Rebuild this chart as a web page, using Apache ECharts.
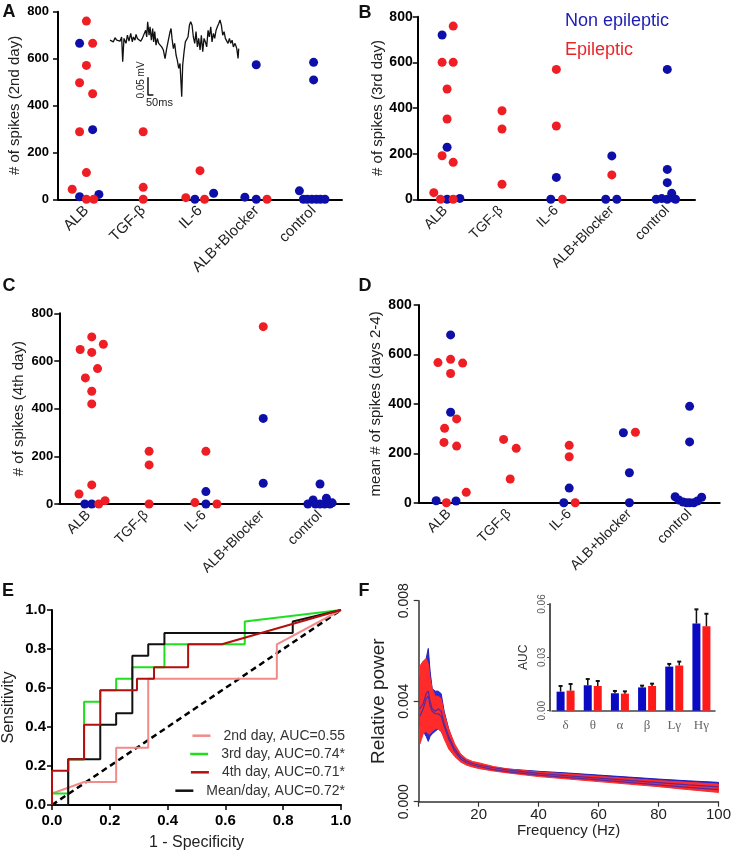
<!DOCTYPE html>
<html><head><meta charset="utf-8">
<script src="https://cdn.jsdelivr.net/npm/echarts@6/dist/echarts.min.js"></script>
<style>html,body{margin:0;padding:0;background:#fff}#c{width:734px;height:853px}</style>
</head><body><div id="c"></div>
<script>
// ---------- DATA ----------
const groupsABC = ['ALB', 'TGF-β', 'IL-6', 'ALB+Blocker', 'control'];
const groupsD = ['ALB', 'TGF-β', 'IL-6', 'ALB+blocker', 'control'];
const spikeTicks = [0, 200, 400, 600, 800];

// each point: [group index, horizontal jitter (in column widths), # of spikes]
const A_nonEpi = [[0,-0.12,11],[0,0.22,21],[0,0.11,297],[0,-0.12,665],[2,-0.09,0],[2,0.24,26],[3,-0.21,9],[3,-0.01,0],[3,-0.01,574],
  [4,-0.25,36],[4,-0.18,0],[4,-0.11,0],[4,-0.03,0],[4,0.05,0],[4,0.12,0],[4,0.2,0],[4,0,584],[4,0,509]];
const A_epi = [[0,-0.25,43],[0,0,0],[0,0.13,0],[0,0,114],[0,-0.12,288],[0,0.11,450],[0,-0.12,497],[0,0,571],[0,0.11,665],[0,0,760],
  [1,0,288],[1,0,51],[1,0,0],[2,-0.25,7],[2,0,122],[2,0.08,0],[3,0.18,0]];
const B_nonEpi = [[0,0.03,0],[0,0.26,4],[0,0.03,228],[0,-0.06,720],[2,-0.1,0],[2,0,96],[3,-0.11,0],[3,0.09,0],[3,0,190],
  [4,-0.2,0],[4,-0.1,3],[4,0,0],[4,0.08,26],[4,0.15,0],[4,0.11,5],[4,0,73],[4,0,131],[4,0,569]];
const B_epi = [[0,-0.21,29],[0,-0.09,0],[0,0.14,0],[0,-0.06,191],[0,0.14,162],[0,0.03,352],[0,0.03,483],[0,-0.06,600],[0,0.14,600],[0,0.14,759],
  [1,0.02,388],[1,0.02,308],[1,0.02,66],[2,0,569],[2,0,321],[2,0.11,0],[3,0,107]];
const C_nonEpi = [[0,-0.06,0],[0,0.06,0],[2,0.03,0],[2,0.03,52],[3,0.02,359],[3,0.02,87],[4,0,84],
  [4,-0.21,0],[4,-0.12,17],[4,-0.08,0],[4,0,0],[4,0.08,0],[4,0.11,24],[4,0.17,0],[4,0.21,5]];
const C_epi = [[0,-0.16,42],[0,0.18,0],[0,0.29,14],[0,0.06,80],[0,0.06,420],[0,0.06,473],[0,-0.05,529],[0,0.16,568],[0,0.06,636],[0,-0.14,648],[0,0.26,670],[0,0.06,701],
  [1,0.05,221],[1,0.05,164],[1,0.05,0],[2,-0.16,6],[2,0.03,221],[2,0.22,0],[3,0.02,744]];
const D_nonEpi = [[0,-0.21,8],[0,0.12,7],[0,0.03,366],[0,0.03,679],[2,-0.09,0],[2,0,59],[3,-0.1,283],[3,0,121],[3,0,0],
  [4,0,390],[4,0,246],[4,-0.24,24],[4,-0.18,11],[4,-0.11,3],[4,-0.05,0],[4,0,0],[4,0.07,0],[4,0.13,7],[4,0.2,22]];
const D_epi = [[0,-0.04,0],[0,0.29,42],[0,-0.08,244],[0,0.13,229],[0,-0.07,301],[0,0.13,339],[0,0.03,523],[0,-0.18,567],[0,0.03,580],[0,0.23,565],
  [1,-0.09,256],[1,0.12,220],[1,0.02,96],[2,0.1,0],[2,0,186],[2,0,232],[3,0.1,285]];

// example trace (inset of A): [time ms, µV]
const trace = [[0,0],[16,5],[31,-5],[47,7],[63,0],[78,5],[94,-3],[109,9],[119,-61],[131,5],[150,-9],[163,14],[178,-3],[194,19],[209,-5],[219,9],
 [234,0],[244,16],[256,5],[272,9],[288,-3],[303,5],[319,0],[334,28],[344,9],[353,52],[366,14],[375,38],[388,0],[400,33],[409,-5],[419,24],
 [431,-14],[444,5],[456,-9],[469,-5],[484,-19],[500,-28],[516,-52],[531,-24],[547,0],[563,24],[572,33],[581,5],[594,-24],[606,-9],[619,-42],
 [631,-57],[644,-80],[656,-66],[672,-160],[681,-71],[694,-33],[706,-5],[719,-9],[731,9],[744,42],[756,52],[769,42],[781,9],[794,-9],[806,24],
 [819,-19],[831,5],[844,-28],[856,14],[869,-33],[881,5],[894,-5],[906,-19],[919,28],[931,9],[944,38],[956,-5],[969,19],[981,5],[994,28],
 [1006,38],[1019,47],[1031,57],[1044,42],[1056,14],[1069,24],[1081,5],[1094,9],[1106,-9],[1119,5],[1131,-9],[1144,0],[1156,-19],[1172,-9],
 [1188,-24],[1200,-52],[1206,-24]];
const scaleBar = [[356,-105],[356,-155],[406,-155]];

// ROC curves: [1 - specificity, sensitivity]
const roc2nd = [[0,0],[0,0.059],[0.111,0.118],[0.222,0.118],[0.222,0.294],[0.333,0.294],[0.333,0.647],[0.778,0.647],[0.778,0.824],[1,1]];
const roc3rd = [[0,0],[0,0.059],[0.056,0.059],[0.056,0.235],[0.111,0.235],[0.111,0.529],[0.167,0.529],[0.167,0.588],[0.222,0.588],[0.222,0.647],[0.278,0.647],[0.278,0.706],[0.389,0.706],[0.389,0.824],[0.667,0.824],[0.667,0.941],[1,1]];
const roc4th = [[0,0],[0,0.176],[0.056,0.176],[0.056,0.235],[0.111,0.235],[0.111,0.412],[0.167,0.412],[0.167,0.588],[0.294,0.588],[0.294,0.647],[0.353,0.647],[0.353,0.706],[0.471,0.706],[0.471,0.824],[0.588,0.824],[1,1]];
const rocMean = [[0,0],[0.056,0],[0.056,0.235],[0.167,0.235],[0.167,0.412],[0.222,0.412],[0.222,0.471],[0.278,0.471],[0.278,0.765],[0.333,0.765],[0.333,0.824],[0.389,0.824],[0.389,0.882],[0.833,0.882],[0.833,0.941],[1,1]];
const rocChance = [[0,0],[1,1]];
const rocNames = ['2nd day, AUC=0.55', '3rd day, AUC=0.74*', '4th day, AUC=0.71*', 'Mean/day, AUC=0.72*'];

// power spectra (F)
const freq     = [0.4,1.5,2.5,3.2,3.8,4.5,5.5,6.5,7.5,8.5,10,12,14,16,18,20,25,30,40,50,60,70,80,90,100];
const nonUpper = [0.0050,0.0053,0.0057,0.0061,0.0052,0.0045,0.0044,0.0044,0.0043,0.0036,0.0029,0.0022,0.0018,0.0016,0.0015,0.00143,0.00136,0.0013,0.00121,0.00114,0.00106,0.00098,0.0009,0.00083,0.00077];
const nonLower = [0.0030,0.0028,0.0026,0.0024,0.0026,0.0027,0.0028,0.0029,0.0028,0.0026,0.0022,0.00185,0.0016,0.00148,0.0014,0.00135,0.00125,0.00118,0.00105,0.00095,0.00086,0.00076,0.00066,0.00056,0.00046];
const epiUpper = [0.0054,0.0056,0.0057,0.0055,0.0049,0.0045,0.0042,0.0042,0.0041,0.0035,0.0029,0.0023,0.0019,0.0017,0.0016,0.00155,0.0014,0.0013,0.00118,0.0011,0.00101,0.00092,0.00084,0.00077,0.0007];
const epiLower = [0.0023,0.0027,0.0028,0.0027,0.0027,0.0028,0.0029,0.0029,0.0028,0.0025,0.0021,0.0018,0.00158,0.00145,0.00138,0.00132,0.00122,0.00114,0.001,0.0009,0.0008,0.0007,0.0006,0.00048,0.00037];
const nonMean  = [0.0037,0.0039,0.0043,0.0044,0.0040,0.0037,0.0036,0.0037,0.0036,0.0031,0.0026,0.0021,0.00178,0.00162,0.00152,0.00146,0.00135,0.00126,0.00113,0.00103,0.00094,0.00085,0.00076,0.00067,0.00059];
const epiMean  = [0.0034,0.0037,0.0041,0.0042,0.0038,0.0036,0.0035,0.0035,0.0034,0.0030,0.0025,0.0020,0.0017,0.00155,0.00146,0.0014,0.00128,0.00119,0.00106,0.00096,0.00087,0.00077,0.00067,0.00057,0.00048];

// band AUC inset
const bands = ['δ', 'θ', 'α', 'β', 'Lγ', 'Hγ'];
const aucNon = [0.0107, 0.0143, 0.0098, 0.0131, 0.0248, 0.0490];
const aucNonSem = [0.0032, 0.0035, 0.0013, 0.0010, 0.0015, 0.0080];
const aucEpi = [0.0113, 0.0139, 0.0096, 0.0139, 0.0254, 0.0475];
const aucEpiSem = [0.0037, 0.0028, 0.0013, 0.0013, 0.0022, 0.0070];

// ---------- STYLE ----------
const FONT = "'Liberation Sans', Arial, sans-serif";
const BLUE = '#0e0ea8', RED = '#ee1e24';
const chart = echarts.init(document.getElementById('c'), null, {renderer: 'canvas'});

const grids = [
  {left: 58, top: 11.7, width: 284, height: 187.6},        // A
  {left: 417.7, top: 16.7, width: 277.3, height: 182.6},   // B
  {left: 59.3, top: 313.3, width: 289.7, height: 190.7},   // C
  {left: 418.7, top: 305, width: 301, height: 197.7},      // D
  {left: 110, top: 20, width: 128.7, height: 76.7},        // trace inset
  {left: 51.5, top: 610, width: 289.5, height: 195},       // E
  {left: 418.7, top: 600.7, width: 301.6, height: 201},    // F
  {left: 552, top: 604, width: 163, height: 106.7}         // F inset
];

const xAxes = [], yAxes = [], series = [];
const panels = [
  {g: 0, cats: groupsABC, non: A_nonEpi, epi: A_epi, name: '# of spikes (2nd day)', gap: 36, lm: 9, fs: 13, cfs: 15},
  {g: 1, cats: groupsABC, non: B_nonEpi, epi: B_epi, name: '# of spikes (3rd day)', gap: 28, lm: 5, fs: 14, cfs: 14},
  {g: 2, cats: groupsABC, non: C_nonEpi, epi: C_epi, name: '# of spikes (4th day)', gap: 33, lm: 6, fs: 13, cfs: 14},
  {g: 3, cats: groupsD, non: D_nonEpi, epi: D_epi, name: 'mean # of spikes (days 2-4)', gap: 35, lm: 7, fs: 14, cfs: 14}
];
panels.forEach(p => {
  xAxes.push({type: 'category', gridIndex: p.g, data: p.cats, position: 'bottom',
    axisLine: {onZero: false, lineStyle: {color: '#000', width: 2}},
    axisTick: {alignWithLabel: true, length: 5, lineStyle: {color: '#000', width: 1.5}},
    axisLabel: {rotate: 45, interval: 0, fontSize: p.cfs, color: '#222', margin: 9, fontFamily: FONT}});
  const valIdx = xAxes.length;
  xAxes.push({type: 'value', gridIndex: p.g, min: -0.5, max: 4.5, show: false, position: 'bottom'});
  const yIdx = yAxes.length;
  yAxes.push({type: 'value', gridIndex: p.g, min: spikeTicks[0], max: spikeTicks[spikeTicks.length - 1], interval: 200,
    name: p.name, nameLocation: 'middle', nameGap: p.gap, nameRotate: 90,
    nameTextStyle: {fontSize: 15, color: '#222', fontFamily: FONT},
    axisLine: {show: true, onZero: false, lineStyle: {color: '#000', width: 2}},
    axisTick: {show: true, length: 5, lineStyle: {color: '#000', width: 1.5}},
    axisLabel: {fontWeight: 'bold', fontSize: p.fs, color: '#000', margin: p.lm, fontFamily: FONT},
    splitLine: {show: false}});
  [[p.non, BLUE, 'Non epileptic'], [p.epi, RED, 'Epileptic']].forEach(([arr, col, nm]) => {
    series.push({type: 'scatter', name: nm, xAxisIndex: valIdx, yAxisIndex: yIdx, symbol: 'circle', symbolSize: 9,
      itemStyle: {color: col, opacity: 1}, data: arr.map(d => [d[0] + d[1], d[2]]), z: 3});
  });
});

// trace inset (grid 4)
const trX = xAxes.length; xAxes.push({type: 'value', gridIndex: 4, min: 0, max: 1206, show: false});
const trY = yAxes.length; yAxes.push({type: 'value', gridIndex: 4, min: -160, max: 57, show: false});
series.push({type: 'line', xAxisIndex: trX, yAxisIndex: trY, data: trace, symbol: 'none', lineStyle: {color: '#111', width: 1.3}});
series.push({type: 'line', xAxisIndex: trX, yAxisIndex: trY, data: scaleBar, symbol: 'none', lineStyle: {color: '#111', width: 1.5}});

// ROC (grid 5)
const eX = xAxes.length;
xAxes.push({type: 'value', gridIndex: 5, min: 0, max: 1, interval: 0.2, name: '1 - Specificity', nameLocation: 'middle', nameGap: 30,
  nameTextStyle: {fontSize: 16, color: '#222', fontFamily: FONT},
  axisLine: {onZero: false, lineStyle: {color: '#000', width: 2}}, axisTick: {length: 5, lineStyle: {color: '#000', width: 1.5}},
  axisLabel: {fontWeight: 'bold', fontSize: 15, color: '#000', margin: 8, fontFamily: FONT, formatter: v => v.toFixed(1)},
  splitLine: {show: false}});
const eY = yAxes.length;
yAxes.push({type: 'value', gridIndex: 5, min: 0, max: 1, interval: 0.2, name: 'Sensitivity', nameLocation: 'middle', nameGap: 35, nameRotate: 90,
  nameTextStyle: {fontSize: 16, color: '#222', fontFamily: FONT},
  axisLine: {show: true, onZero: false, lineStyle: {color: '#000', width: 2}}, axisTick: {show: true, length: 5, lineStyle: {color: '#000', width: 1.5}},
  axisLabel: {fontWeight: 'bold', fontSize: 15, color: '#000', margin: 6, fontFamily: FONT, formatter: v => v.toFixed(1)},
  splitLine: {show: false}});
series.push({type: 'line', xAxisIndex: eX, yAxisIndex: eY, data: rocChance, symbol: 'none', lineStyle: {color: '#000', width: 2.5, type: [6, 4]}});
const rocSets = [[roc2nd, '#f28a8a', 0], [roc3rd, '#1fe01f', 1], [rocMean, '#111', 3], [roc4th, '#b40f0f', 2]];
rocSets.forEach(([d, c, ni]) => {
  series.push({type: 'line', name: rocNames[ni], xAxisIndex: eX, yAxisIndex: eY, data: d, symbol: 'none',
    lineStyle: {color: c, width: 2}, itemStyle: {color: c}});
});
const legendRows = [736.7, 755, 773.3, 791.7];
const legends = rocNames.map((n, i) => ({data: [n], right: 389, top: legendRows[i] - 8, orient: 'horizontal', icon: 'rect',
  itemWidth: 18, itemHeight: 2.5, padding: 0, selectedMode: false,
  textStyle: {fontSize: 14, color: '#333', fontFamily: FONT, padding: [0, 0, 0, 8]}}));

// spectrum (grid 6)
const fX = xAxes.length;
xAxes.push({type: 'value', gridIndex: 6, min: 0, max: 100, interval: 20, name: 'Frequency (Hz)', nameLocation: 'middle', nameGap: 22,
  nameTextStyle: {fontSize: 15, color: '#222', fontFamily: FONT},
  axisLine: {onZero: false, lineStyle: {color: '#333', width: 1.5}}, axisTick: {length: 5, lineStyle: {color: '#333', width: 1.2}},
  axisLabel: {fontSize: 15, color: '#222', margin: 6, fontFamily: FONT, formatter: v => v === 0 ? '' : String(v)},
  splitLine: {show: false}});
const fY = yAxes.length;
yAxes.push({type: 'value', gridIndex: 6, min: 0, max: 0.008, interval: 0.004, name: 'Relative power', nameLocation: 'middle', nameGap: 30, nameRotate: 90,
  nameTextStyle: {fontSize: 19, color: '#222', fontFamily: FONT},
  axisLine: {show: true, onZero: false, lineStyle: {color: '#333', width: 1.5}}, axisTick: {show: true, length: 5, lineStyle: {color: '#333', width: 1.2}},
  axisLabel: {fontSize: 14, color: '#222', margin: 8, rotate: 90, fontFamily: FONT, formatter: v => v.toFixed(3)},
  splitLine: {show: false}});
function band(lower, upper, fill, stroke) {
  series.push({type: 'custom', xAxisIndex: fX, yAxisIndex: fY, silent: true, encode: {x: 0, y: 1},
    data: [[freq[0], lower[0]]],
    renderItem: (params, api) => {
      const pts = freq.map((f, i) => api.coord([f, upper[i]]));
      for (let i = freq.length - 1; i >= 0; i--) pts.push(api.coord([freq[i], lower[i]]));
      return {type: 'polygon', shape: {points: pts}, style: {fill: fill, stroke: stroke, lineWidth: 1}};
    }});
}
band(nonLower, nonUpper, '#2a2ad8', '#2020b8');
band(epiLower, epiUpper, '#ff2b2b', '#ff2b2b');
[nonMean, epiMean].forEach(m => series.push({type: 'line', xAxisIndex: fX, yAxisIndex: fY, symbol: 'none',
  data: freq.map((f, i) => [f, m[i]]), lineStyle: {color: '#5a2a9c', width: 1.2}}));

// inset bars (grid 7)
const iX = xAxes.length;
xAxes.push({type: 'category', gridIndex: 7, data: bands,
  axisLine: {onZero: false, lineStyle: {color: '#444', width: 1.5}}, axisTick: {show: false},
  axisLabel: {fontSize: 13, color: '#666', margin: 8, fontFamily: "'Liberation Serif', 'DejaVu Serif', serif"}});
const iY = yAxes.length;
yAxes.push({type: 'value', gridIndex: 7, min: 0, max: 0.06, interval: 0.03, name: 'AUC', nameLocation: 'middle', nameGap: 20, nameRotate: 90,
  nameTextStyle: {fontSize: 12, color: '#333', fontFamily: FONT}, offset: 2,
  axisLine: {show: true, onZero: false, lineStyle: {color: '#555', width: 2}}, axisTick: {show: true, length: 3, lineStyle: {color: '#555'}},
  axisLabel: {fontSize: 10, color: '#555', margin: 3, rotate: 90, fontFamily: FONT, formatter: v => v.toFixed(2)},
  splitLine: {show: false}});
series.push({type: 'bar', xAxisIndex: iX, yAxisIndex: iY, data: aucNon, barWidth: 8, barGap: '25%', itemStyle: {color: '#0a0ac4'}, z: 3});
series.push({type: 'bar', xAxisIndex: iX, yAxisIndex: iY, data: aucEpi, barWidth: 8, barGap: '25%', itemStyle: {color: '#ff1a1a'}, z: 3});
function errItem(shift) {
  return function (params, api) {
    const i = api.value(0), top = api.value(1), mean = api.value(2);
    const a = api.coord([i, mean]), b = api.coord([i, top]);
    const x = a[0] + shift;
    return {type: 'group', children: [
      {type: 'line', shape: {x1: x, y1: a[1], x2: x, y2: b[1]}, style: {stroke: '#111', lineWidth: 1.5}},
      {type: 'line', shape: {x1: x - 2, y1: b[1], x2: x + 2, y2: b[1]}, style: {stroke: '#111', lineWidth: 2}}]};
  };
}
series.push({type: 'custom', xAxisIndex: iX, yAxisIndex: iY, renderItem: errItem(-5), z: 4, encode: {x: 0, y: 1},
  data: aucNon.map((v, i) => [i, v + aucNonSem[i], v])});
series.push({type: 'custom', xAxisIndex: iX, yAxisIndex: iY, renderItem: errItem(5), z: 4, encode: {x: 0, y: 1},
  data: aucEpi.map((v, i) => [i, v + aucEpiSem[i], v])});

// text annotations
const letter = (t, x, y) => ({type: 'text', x: x, y: y, style: {text: t, font: 'bold 18px ' + FONT, fill: '#111', align: 'center', verticalAlign: 'middle'}});
const graphic = [
  letter('A', 9, 12), letter('B', 365, 13), letter('C', 9, 286), letter('D', 365, 286), letter('E', 8, 591), letter('F', 364, 591),
  {type: 'text', x: 565, y: 21, style: {text: 'Non epileptic', font: '18px ' + FONT, fill: '#1c1cb4', verticalAlign: 'middle'}},
  {type: 'text', x: 565, y: 50, style: {text: 'Epileptic', font: '18px ' + FONT, fill: '#e8262a', verticalAlign: 'middle'}},
  {type: 'text', x: 141, y: 80, rotation: Math.PI / 2, style: {text: '0.05 mV', font: '10px ' + FONT, fill: '#222', align: 'center', verticalAlign: 'middle'}},
  {type: 'text', x: 146, y: 102.5, style: {text: '50ms', font: '11px ' + FONT, fill: '#222', verticalAlign: 'middle'}}
];

chart.setOption({
  animation: false,
  backgroundColor: '#fff',
  textStyle: {fontFamily: FONT},
  grid: grids,
  xAxis: xAxes,
  yAxis: yAxes,
  legend: legends,
  series: series,
  graphic: graphic
});
</script></body></html>
